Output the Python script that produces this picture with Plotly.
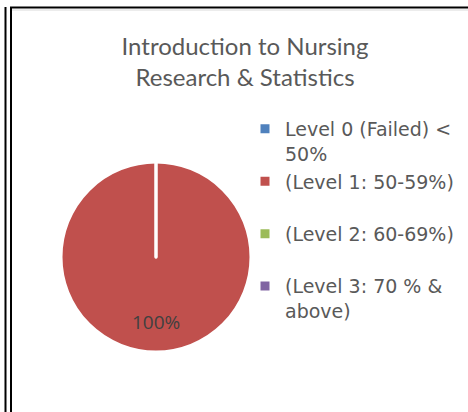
import plotly.graph_objects as go

categories = ["Level 0 (Failed) <<br>50%", "(Level 1: 50-59%)", "(Level 2: 60-69%)", "(Level 3: 70 % &<br>above)"]
values = [0, 100, 0, 0]
colors = ["#4F81BD", "#C0504D", "#9BBB59", "#8064A2"]
slice_text = ["" if v == 0 else f"{v / sum(values) * 100:.0f}%" for v in values]

# legend rows in the reference are spaced unevenly; pad single-line entries
legend_labels = [c if "<br>" in c or i == 0 else c + "<br>\u00a0" for i, c in enumerate(categories)]

W, H = 468, 412
TITLE_FONT = "Lato"
LEG_FONT = "DejaVu Sans"
GREY = "#595959"

dom_x = [61 / W, 251 / W]
dom_y = [1 - 352 / H, 1 - 162 / H]

fig = go.Figure()
fig.add_trace(go.Pie(
    labels=legend_labels,
    values=values,
    text=slice_text,
    textinfo="none",
    marker=dict(colors=colors, line=dict(color="white", width=3)),
    sort=False,
    direction="clockwise",
    rotation=0,
    showlegend=True,
    domain=dict(x=dom_x, y=dom_y),
    hoverinfo="label+percent",
))

# data label of the full slice, placed at its mid-angle (bottom) like the original
cx = (dom_x[0] + dom_x[1]) / 2
cy = (dom_y[0] + dom_y[1]) / 2
r_paper_y = (dom_y[1] - dom_y[0]) / 2
annotations = []
for t in slice_text:
    if t:
        annotations.append(dict(
            x=cx, y=cy - 0.68 * r_paper_y, xref="paper", yref="paper",
            text=t, showarrow=False, xanchor="center", yanchor="middle",
            font=dict(family="Open Sans", size=19, color="#404040"),
        ))

shapes = [
    dict(type="line", xref="paper", yref="paper", x0=5.5 / W, x1=5.5 / W, y0=1 - 7 / H, y1=0, line=dict(color="black", width=2)),
    dict(type="line", xref="paper", yref="paper", x0=11 / W, x1=11 / W, y0=1 - 7 / H, y1=0, line=dict(color="black", width=2)),
    dict(type="line", xref="paper", yref="paper", x0=10 / W, x1=1, y0=1 - 7.5 / H, y1=1 - 7.5 / H, line=dict(color="black", width=2)),
    dict(type="line", xref="paper", yref="paper", x0=12 / W, x1=1, y0=1 - 10 / H, y1=1 - 10 / H, line=dict(color="#D9D9D9", width=1)),
]

fig.update_layout(
    width=W, height=H,
    margin=dict(l=0, r=0, t=0, b=0),
    paper_bgcolor="white",
    plot_bgcolor="white",
    font=dict(family=LEG_FONT, color=GREY),
    title=dict(
        text="Introduction to Nursing<br>Research & Statistics",
        x=245 / W, xanchor="center",
        y=1 - 55 / H, yanchor="middle",
        font=dict(family=TITLE_FONT, size=24, color=GREY),
    ),
    legend=dict(
        x=245 / W, xanchor="left",
        y=1 - 110 / H, yanchor="top",
        valign="top",
        font=dict(family=LEG_FONT, size=19, color=GREY),
        itemwidth=30,
        bgcolor="rgba(0,0,0,0)",
        traceorder="normal",
    ),
    annotations=annotations,
    shapes=shapes,
)

fig.write_html("out.html", config={"displayModeBar": False},
               post_script="document.body.style.margin='0';")
